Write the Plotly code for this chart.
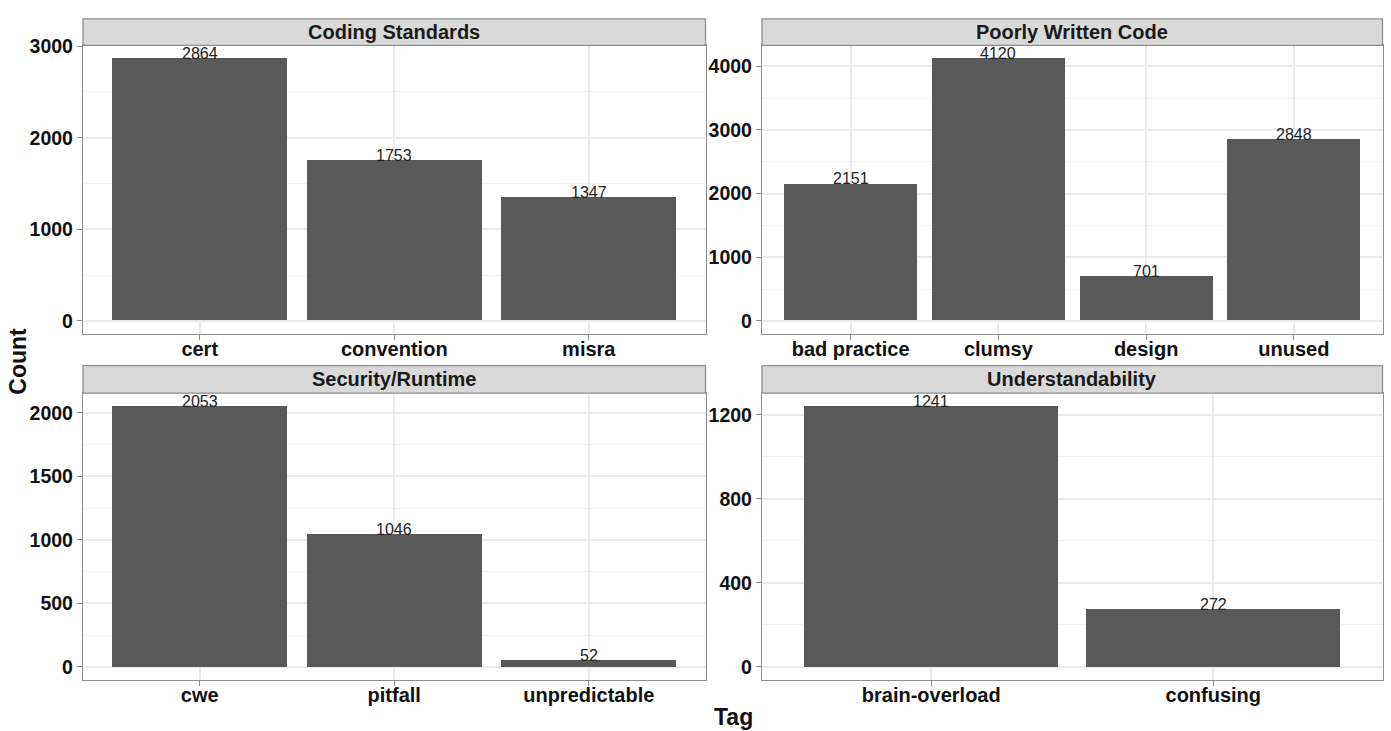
import plotly.graph_objects as go

# ---- data ----
facet_titles = ["Coding Standards", "Poorly Written Code", "Security/Runtime", "Understandability"]
coding_tags = ["cert", "convention", "misra"]
coding_counts = [2864, 1753, 1347]
poor_tags = ["bad practice", "clumsy", "design", "unused"]
poor_counts = [2151, 4120, 701, 2848]
sec_tags = ["cwe", "pitfall", "unpredictable"]
sec_counts = [2053, 1046, 52]
und_tags = ["brain-overload", "confusing"]
und_counts = [1241, 272]
major_steps = [1000, 1000, 500, 400]

W, H = 1391, 731
FONT = "Liberation Sans, Arial, sans-serif"
BAR = "#595959"
BORDER = "#8f8f8f"
GRID = "#ebebeb"
MINOR = "#f2f2f2"

# panel pixel boxes: (x0, x1, y_top, y_bottom, strip_top)
panels = [
    (83, 705.5, 35, 328, 8),
    (762, 1382.5, 35, 328, 8),
    (83, 705.5, 388, 679, 360),
    (762, 1382.5, 388, 679, 360),
]
series = [
    (coding_tags, coding_counts),
    (poor_tags, poor_counts),
    (sec_tags, sec_counts),
    (und_tags, und_counts),
]

def px(x):
    return x / W

def py(y):
    return 1 - y / H

fig = go.Figure()
layout = dict(
    width=W, height=H,
    margin=dict(l=0, r=0, t=0, b=0),
    paper_bgcolor="white", plot_bgcolor="white",
    showlegend=False,
    font=dict(family=FONT, color="#111111"),
    bargap=0,
)
shapes = []
annotations = []

for i, ((tags, counts), (x0, x1, yt, yb, st), title, step) in enumerate(
        zip(series, panels, facet_titles, major_steps)):
    n = i + 1
    xa = "x" if n == 1 else f"x{n}"
    ya = "y" if n == 1 else f"y{n}"
    fig.add_trace(go.Bar(
        x=tags, y=counts, width=0.9,
        marker=dict(color=BAR, line=dict(width=0)),
        xaxis=xa, yaxis=ya, hoverinfo="x+y",
    ))
    mx = max(counts)
    layout["xaxis" if n == 1 else f"xaxis{n}"] = dict(
        domain=[px(x0), px(x1)], anchor=ya,
        type="category", range=[-0.6, len(tags) - 0.4],
        showgrid=True, gridcolor=GRID, gridwidth=1.5,
        showline=True, mirror=True, linecolor=BORDER, linewidth=1.3,
        ticks="outside", ticklen=5, tickcolor=BORDER, tickwidth=1.2,
        ticklabelstandoff=-8,
        tickfont=dict(family=FONT, size=20, color="#111111", weight="bold"),
        zeroline=False, fixedrange=True,
    )
    layout["yaxis" if n == 1 else f"yaxis{n}"] = dict(
        domain=[py(yb), py(yt)], anchor=xa,
        range=[-0.05 * mx, 1.05 * mx],
        tick0=0, dtick=step,
        showgrid=True, gridcolor=GRID, gridwidth=1.5,
        minor=dict(tick0=0, dtick=step / 2, showgrid=True,
                   gridcolor=MINOR, gridwidth=1),
        showline=True, mirror=True, linecolor=BORDER, linewidth=1.3,
        ticks="outside", ticklen=5, tickcolor=BORDER, tickwidth=1.2,
        tickfont=dict(family=FONT, size=19.5, color="#111111", weight="bold"),
        zeroline=False, fixedrange=True,
    )
    # strip
    shapes.append(dict(
        type="rect", xref="paper", yref="paper",
        x0=px(x0), x1=px(x1), y0=py(yt), y1=py(st),
        fillcolor="#d9d9d9", line=dict(color=BORDER, width=1.3),
        layer="above",
    ))
    annotations.append(dict(
        xref="paper", yref="paper", x=px((x0 + x1) / 2), y=py((yt + st) / 2),
        text=f"<b>{title}</b>", showarrow=False,
        xanchor="center", yanchor="middle",
        font=dict(family=FONT, size=20, color="#1a1a1a"),
    ))
    # value labels
    for t, c in zip(tags, counts):
        annotations.append(dict(
            xref=xa, yref=ya, x=t, y=c, text=str(c), showarrow=False,
            xanchor="center", yanchor="middle", yshift=5,
            font=dict(family=FONT, size=16, color="#222222"),
        ))

annotations.append(dict(
    xref="paper", yref="paper", x=px(18), y=py(356), text="<b>Count</b>",
    showarrow=False, textangle=-90, xanchor="center", yanchor="middle",
    font=dict(family=FONT, size=23, color="#111111"),
))
annotations.append(dict(
    xref="paper", yref="paper", x=px(733), y=py(717), text="<b>Tag</b>",
    showarrow=False, xanchor="center", yanchor="middle",
    font=dict(family=FONT, size=23, color="#111111"),
))

layout["shapes"] = shapes
layout["annotations"] = annotations
fig.update_layout(**layout)
fig.write_html(
    "out.html",
    config={"displayModeBar": False},
    post_script="document.body.style.margin='0';document.body.style.overflow='hidden';",
)
